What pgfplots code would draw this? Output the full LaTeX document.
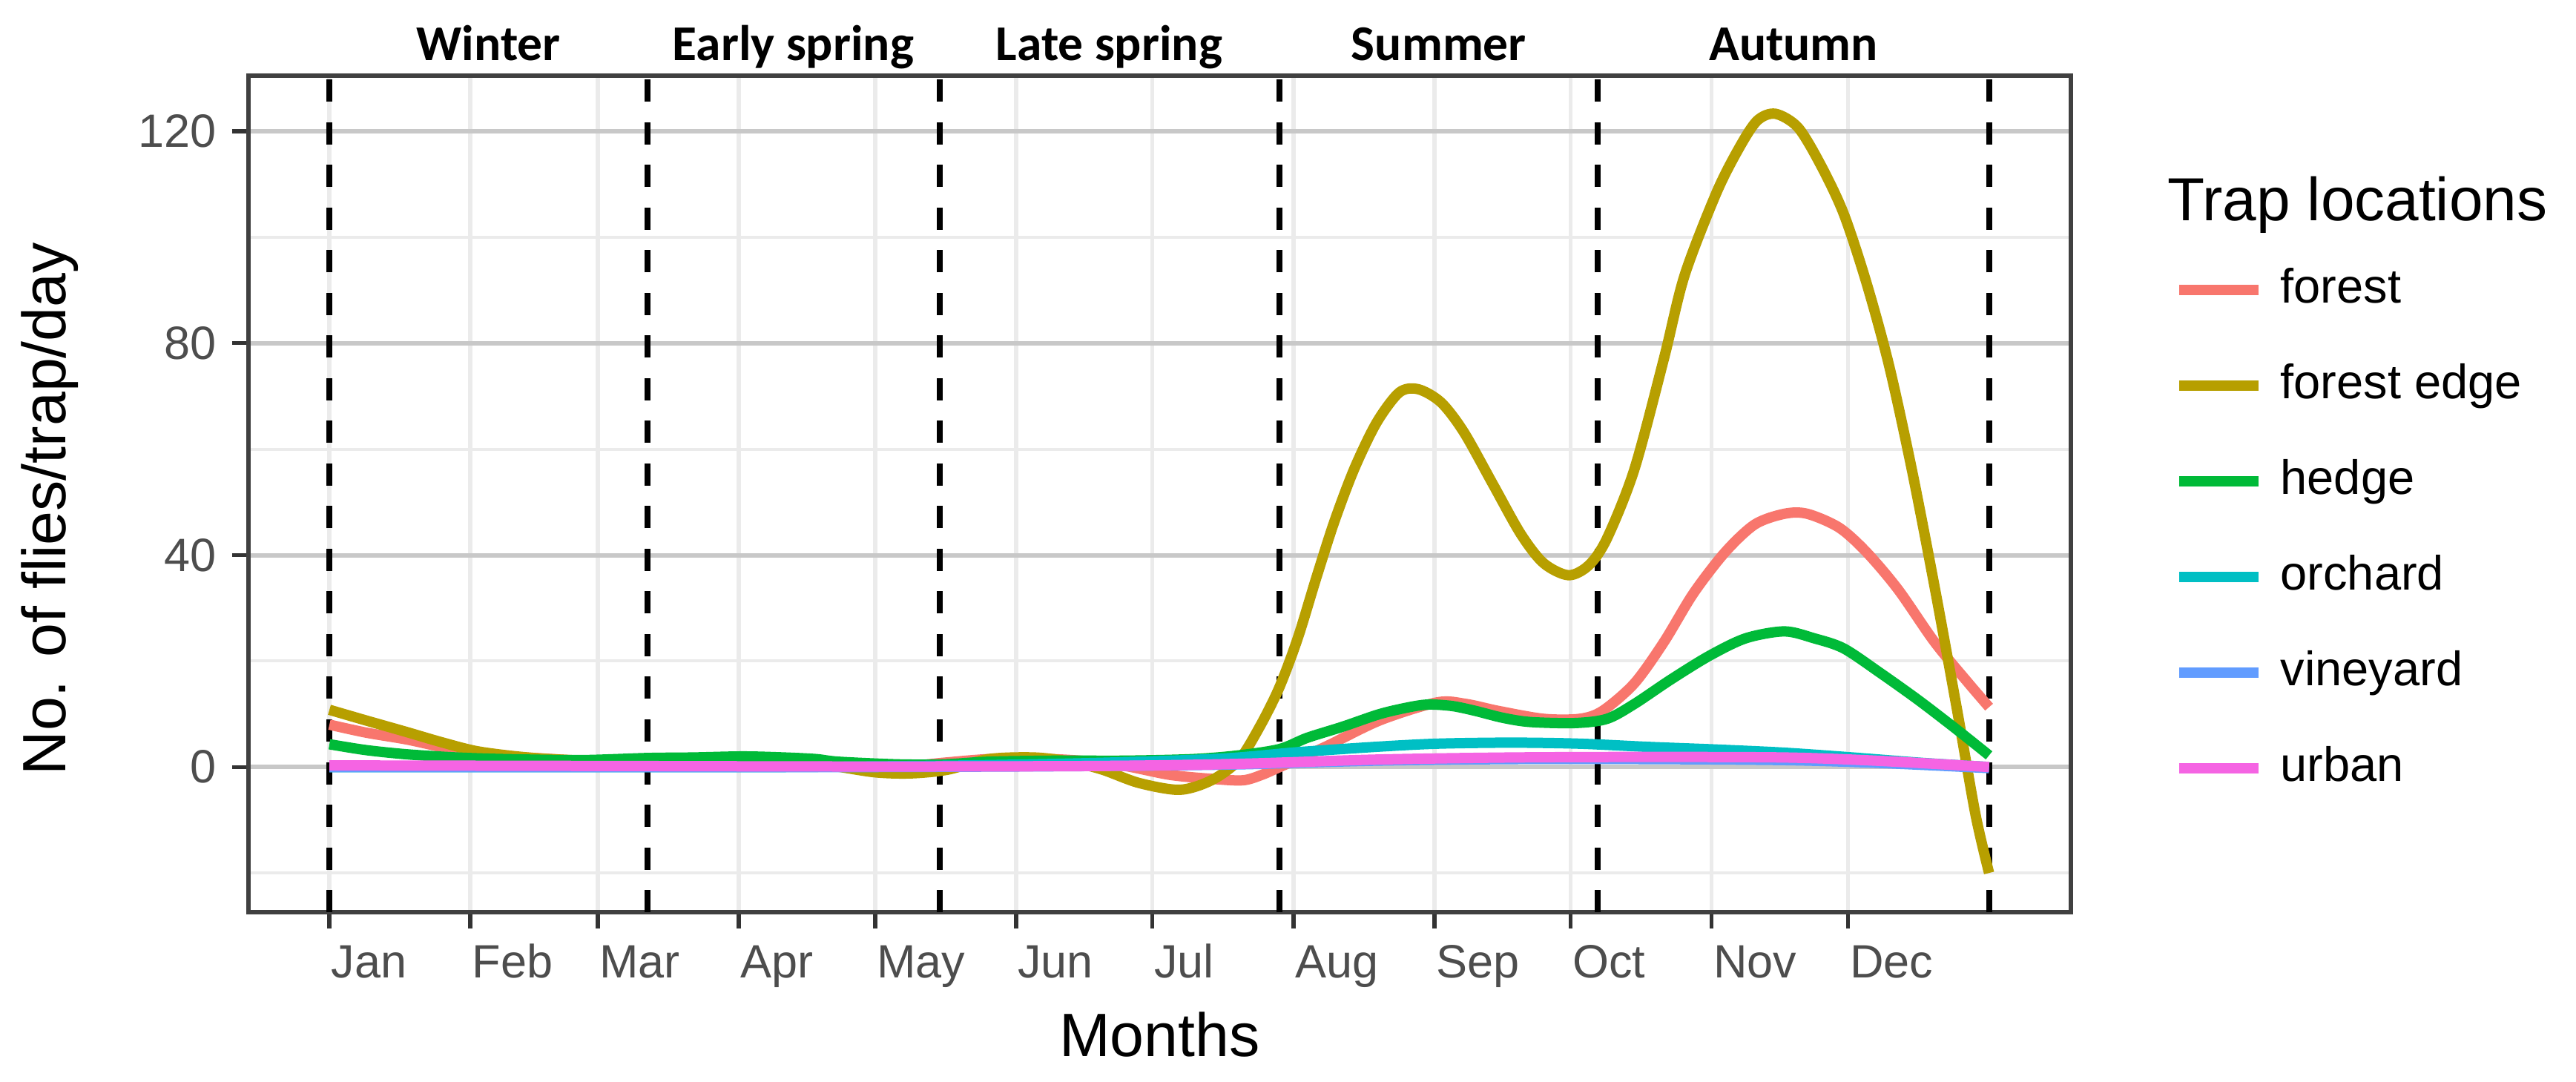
\documentclass[border=0pt]{standalone}
\usepackage{fontspec}
\setmainfont{Liberation Sans}
\newfontfamily\seasonfont{Carlito}
\usepackage{pgfplots}
\pgfplotsset{compat=1.18}
\definecolor{cforest}{HTML}{F8766D}
\definecolor{cedge}{HTML}{B79F00}
\definecolor{chedge}{HTML}{00BA38}
\definecolor{corchard}{HTML}{00BFC4}
\definecolor{cvine}{HTML}{619CFF}
\definecolor{curban}{HTML}{F564E3}
\definecolor{gmaj}{HTML}{C8C8C8}
\definecolor{gmin}{HTML}{EBEBEB}
\definecolor{tickgray}{HTML}{4D4D4D}
\begin{document}
\begin{tikzpicture}
\useasboundingbox (-67pt,-45.6pt) rectangle (627.6pt,246pt);
\begin{axis}[
  at={(0,0)}, anchor=south west, scale only axis,
  width=491.4pt, height=225.6pt,
  xmin=-17.8, xmax=383, ymin=-27.4, ymax=130.5,
  clip=false,
  axis line style={draw=black!75, line width=1.2pt},
  xtick={0,31,59,90,120,151,181,212,243,273,304,334},
  xticklabels={Jan,Feb,Mar,Apr,May,Jun,Jul,Aug,Sep,Oct,Nov,Dec},
  ytick={0,40,80,120}, minor ytick={-20,20,60,100},
  xtick pos=left, ytick pos=left,
  tick align=outside, major tick length=4.4pt, minor tick length=0pt,
  every tick/.style={black!80, line width=1.1pt},
  xmajorgrids, ymajorgrids, yminorgrids,
  major x grid style={gmin, line width=1.1pt},
  major y grid style={gmaj, line width=1.2pt},
  minor y grid style={gmin, line width=0.8pt},
  /pgf/number format/assume math mode=true,
  xticklabel style={anchor=north west, inner sep=0pt, yshift=-4pt, xshift=0.3pt, text height=9pt, text depth=2.5pt, text=tickgray, font=\fontsize{12.6}{15}\selectfont},
  yticklabel style={anchor=east, inner sep=0pt, xshift=-4pt, text=tickgray, font=\fontsize{12.6}{15}\selectfont},
  xlabel={Months}, ylabel={No. of flies/trap/day},
  xlabel style={at={(axis description cs:0.5,-0.1463)}, anchor=center, font=\fontsize{16.5}{19}\selectfont},
  ylabel style={at={(axis description cs:-0.1091,0.482)}, anchor=center, rotate=0, font=\fontsize{16.5}{19}\selectfont},
  legend style={at={(axis description cs:1.0566,0.801)}, anchor=north west, draw=none, fill=none,
    inner sep=0pt, outer sep=0pt, row sep=0pt, column sep=0pt,
    nodes={inner sep=0pt, minimum height=25.8pt, text height=9.5pt, text depth=2.5pt, font=\fontsize{13}{15}\selectfont}},
  legend cell align=left,
  legend image code/.code={\draw[#1, line width=2.8pt] (0pt,0pt) -- (21.3pt,0pt); \path[draw=none, fill=none] (0pt,0pt) -- (27.3pt,0pt);},
]
% seasonal boundaries
\addplot[forget plot, black, line width=1.6pt, dash pattern=on 6pt off 5.5pt] coordinates {(0,-27.4) (0,130.5)};
\addplot[forget plot, black, line width=1.6pt, dash pattern=on 6pt off 5.5pt] coordinates {(70,-27.4) (70,130.5)};
\addplot[forget plot, black, line width=1.6pt, dash pattern=on 6pt off 5.5pt] coordinates {(134.3,-27.4) (134.3,130.5)};
\addplot[forget plot, black, line width=1.6pt, dash pattern=on 6pt off 5.5pt] coordinates {(209,-27.4) (209,130.5)};
\addplot[forget plot, black, line width=1.6pt, dash pattern=on 6pt off 5.5pt] coordinates {(279,-27.4) (279,130.5)};
\addplot[forget plot, black, line width=1.6pt, dash pattern=on 6pt off 5.5pt] coordinates {(365,-27.4) (365,130.5)};

% forest
\addplot[cforest, line width=2.8pt, smooth, tension=0.5] coordinates {
(0,8) (8,6.5) (17,5.2) (25,3.7) (33,2.4) (49,1.5) (60,1) (80,0.8) (100,0.8) (115,0.3) (125,0) (135,0.8)
(145,1.5) (155,1.6) (165,1.2) (175,0.2) (185,-1.5) (195,-2.3) (201,-2.5) (205,-1.5) (209,0) (219,3.8)
(231,8.8) (243.6,12.2) (250,11.9) (257,10.6) (267,9.1) (275,9.1) (280,10.6) (287,15.8) (293.5,23.6)
(300,32.8) (307,40.6) (313.5,45.8) (320,47.8) (325,47.8) (332,45.2) (338,40.6) (345,33.5) (353,23.6)
(360.5,15.8) (365,11.3)};
\addlegendentry{forest}
% forest edge
\addplot[cedge, line width=2.8pt, smooth, tension=0.5] coordinates {
(0,10.8) (8,8.8) (17,6.6) (25,4.6) (33,2.9) (45,1.7) (60,1.1) (75,1.2) (90,1.4) (100,1.2) (110,0.3)
(120,-1.0) (128,-1.2) (136,-0.5) (145,1.5) (155,1.8) (163,1.0) (170,-0.5) (178,-3) (187,-4.3) (194,-2.5)
(200,1.3) (204.6,7.6) (208.9,15) (213,24.4) (217,35.6) (221,46.3) (225.4,56.3) (230.3,65) (235.3,70.7)
(239.5,71.3) (244.5,68.8) (249.5,63.2) (256,53.2) (262,44) (267,38.5) (272.5,36.2) (277,38.1) (281,43.2)
(287,56.2) (293.5,77.1) (298,92.7) (305,108.3) (310,116.8) (314,122) (318,123.3) (323,120.7) (328,113.6)
(333,104.5) (338,91.5) (343,75.8) (348,56.2) (353,34.1) (358,10.6) (362,-8.9) (365,-20)};
\addlegendentry{forest edge}
% hedge
\addplot[chedge, line width=2.8pt, smooth, tension=0.5] coordinates {
(0,4.3) (8,3.2) (17,2.4) (28,1.8) (38.5,1.5) (55,1.3) (70,1.7) (80,1.8) (91,2) (100,1.8) (107,1.5)
(112,1) (125,0.5) (135,0.5) (145,1) (160,1.2) (175,1.2) (190,1.5) (200,2.2) (209,3.4) (215,5.5)
(222.8,7.6) (231,10) (237.5,11.3) (241.8,11.8) (247,11.5) (252,10.6) (258,9.3) (264,8.5) (274,8.3)
(281,9.1) (287,11.9) (295,16.5) (303.5,21) (311.5,24.3) (320,25.6) (326.5,24.3) (333,22.4) (341,17.8)
(349.5,12.6) (358,7) (365,2.2)};
\addlegendentry{hedge}
% orchard
\addplot[corchard, line width=2.8pt, smooth, tension=0.5] coordinates {
(0,0) (30,0) (60,0) (100,0) (140,0.3) (170,0.8) (196.5,1.6) (213,2.8) (230,3.8) (243.6,4.4) (260,4.6)
(275,4.4) (290,3.8) (305,3.3) (320,2.7) (335,1.8) (350,0.8) (365,0)};
\addlegendentry{orchard}
% vineyard
\addplot[cvine, line width=2.8pt, smooth, tension=0.5] coordinates {
(0,0) (60,0) (120,0) (170,0.2) (200,0.5) (230,1.2) (260,1.5) (290,1.5) (320,1.3) (340,0.8) (365,-0.2)};
\addlegendentry{vineyard}
% urban
\addplot[curban, line width=2.8pt, smooth, tension=0.5] coordinates {
(0,0.3) (60,0.2) (120,0.1) (170,0.2) (200,0.6) (230,1.4) (260,1.8) (290,1.9) (320,1.8) (340,1.2) (365,0)};
\addlegendentry{urban}

% season labels
\node[anchor=base, inner sep=0pt, yshift=4pt, font=\seasonfont\bfseries\fontsize{13.5}{16}\selectfont] at (axis cs:35,130.5) {Winter};
\node[anchor=base, inner sep=0pt, yshift=4pt, font=\seasonfont\bfseries\fontsize{13.5}{16}\selectfont] at (axis cs:102,130.5) {Early spring};
\node[anchor=base, inner sep=0pt, yshift=4pt, font=\seasonfont\bfseries\fontsize{13.5}{16}\selectfont] at (axis cs:171.5,130.5) {Late spring};
\node[anchor=base, inner sep=0pt, yshift=4pt, font=\seasonfont\bfseries\fontsize{13.5}{16}\selectfont] at (axis cs:244,130.5) {Summer};
\node[anchor=base, inner sep=0pt, yshift=4pt, font=\seasonfont\bfseries\fontsize{13.5}{16}\selectfont] at (axis cs:322,130.5) {Autumn};
% legend title
\node[anchor=base west, inner sep=0pt, font=\fontsize{16.4}{19}\selectfont] at (axis description cs:1.0527,0.8271) {Trap locations};
\end{axis}
\end{tikzpicture}
\end{document}
